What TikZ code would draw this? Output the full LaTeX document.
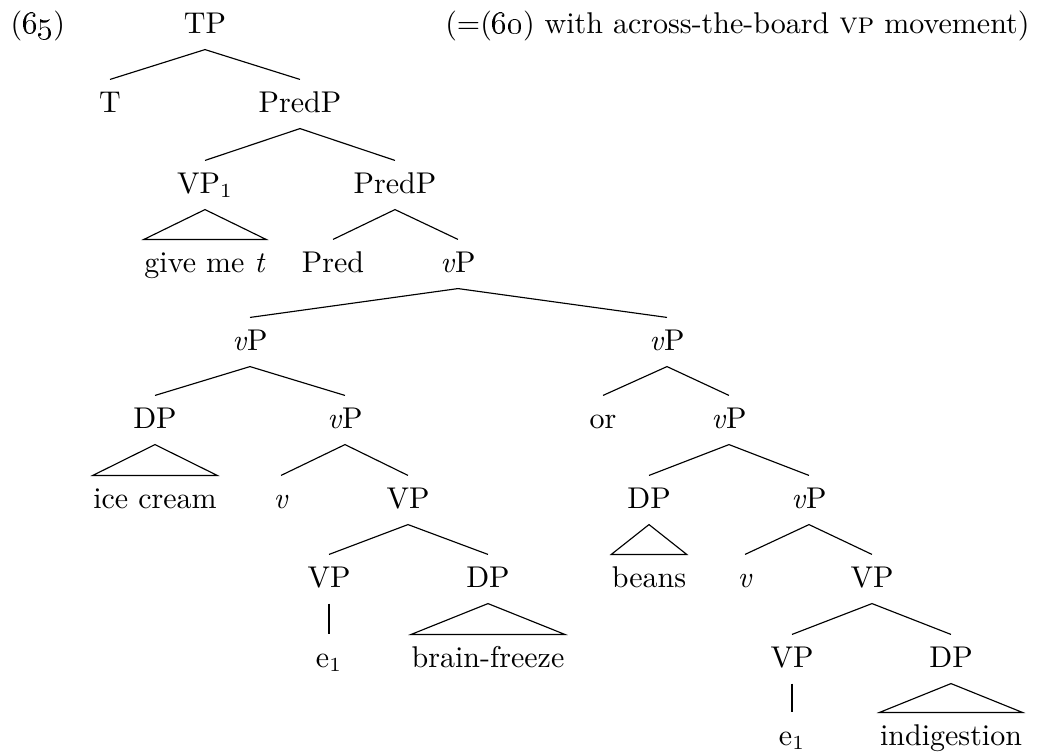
\documentclass[tikz,border=0pt]{standalone}
\usepackage{amsmath}
\usepackage{tikz}

\begin{document}
\begin{tikzpicture}[x=0.35pt,y=-0.35pt]
\tikzset{
    cat/.style={
              anchor=base,
                   inner sep=0pt,
                   text height=11.2pt,
                   text depth=5.6pt,
                   font=\fontsize{10.5}{12}\selectfont
    }
}
\useasboundingbox (0,0) rectangle (1046,755);

    \node (ex)[cat,anchor=base west] at (10,33) {(\oldstylenums{65})};
    \node (note)[cat,anchor=base east] at (1030,33) {(=(\oldstylenums{60}) with across-the-board \textsc{vp} movement)};

    \node (TP)[cat] at (205,33) {TP};
    \node (T)[cat] at (110,112) {T};
    \node (PredPa)[cat] at (300,112) {PredP};
    \node (VPone)[cat] at (205,193) {VP$_1$};
    \node (PredPb)[cat] at (395,193) {PredP};
    \node (give)[cat] at (205,272) {give me \textit{t}};
    \node (Pred)[cat] at (333,272) {Pred};
    \node (vPa)[cat] at (458,272) {\textit{v}P};
    \node (vPb)[cat] at (250,350) {\textit{v}P};
    \node (vPc)[cat] at (667,350) {\textit{v}P};
    \node (DPa)[cat] at (155,428) {DP};
    \node (vPd)[cat] at (345,428) {\textit{v}P};
    \node (or)[cat] at (603,428) {or};
    \node (vPe)[cat] at (729,428) {\textit{v}P};
    \node (icecream)[cat] at (155,508) {ice cream};
    \node (va)[cat] at (281,508) {\textit{v}};
    \node (VPa)[cat] at (408,508) {VP};
    \node (DPb)[cat] at (649,508) {DP};
    \node (vPf)[cat] at (809,508) {\textit{v}P};
    \node (VPb)[cat] at (329,587) {VP};
    \node (DPc)[cat] at (488,587) {DP};
    \node (beans)[cat] at (649,587) {beans};
    \node (vb)[cat] at (745,587) {\textit{v}};
    \node (VPc)[cat] at (872,587) {VP};
    \node (ea)[cat] at (329,667) {e$_1$};
    \node (brainfreeze)[cat] at (488,667) {brain-freeze};
    \node (VPd)[cat] at (792,667) {VP};
    \node (DPd)[cat] at (951,667) {DP};
    \node (eb)[cat] at (792,745) {e$_1$};
    \node (indigestion)[cat] at (951,745) {indigestion};

    \draw (T.north) -- (TP.south) -- (PredPa.north);
    \draw (VPone.north) -- (PredPa.south) -- (PredPb.north);
    \draw (give.north west) -- (VPone.south) -- (give.north east) -- cycle;
    \draw (Pred.north) -- (PredPb.south) -- (vPa.north);
    \draw (vPb.north) -- (vPa.south) -- (vPc.north);
    \draw (DPa.north) -- (vPb.south) -- (vPd.north);
    \draw (or.north) -- (vPc.south) -- (vPe.north);
    \draw (icecream.north west) -- (DPa.south) -- (icecream.north east) -- cycle;
    \draw (va.north) -- (vPd.south) -- (VPa.north);
    \draw (DPb.north) -- (vPe.south) -- (vPf.north);
    \draw (VPb.north) -- (VPa.south) -- (DPc.north);
    \draw (beans.north west) -- (DPb.south) -- (beans.north east) -- cycle;
    \draw (vb.north) -- (vPf.south) -- (VPc.north);
    \draw (VPb.south) -- (ea.north);
    \draw (brainfreeze.north west) -- (DPc.south) -- (brainfreeze.north east) -- cycle;
    \draw (VPd.north) -- (VPc.south) -- (DPd.north);
    \draw (VPd.south) -- (eb.north);
    \draw (indigestion.north west) -- (DPd.south) -- (indigestion.north east) -- cycle;

\end{tikzpicture}
\end{document}
